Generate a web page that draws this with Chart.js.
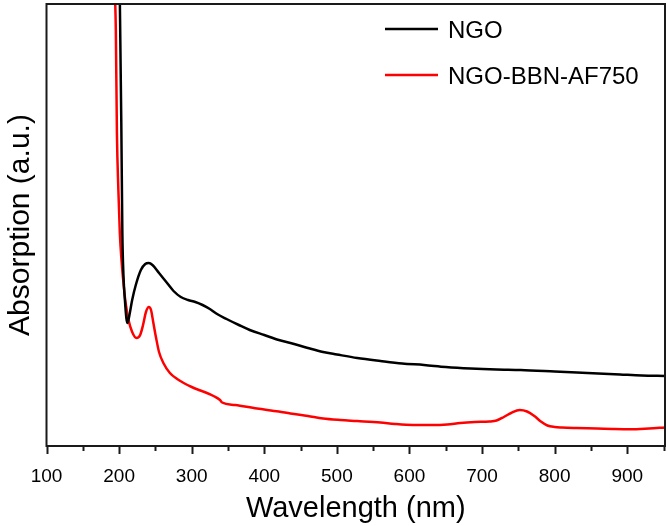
<!DOCTYPE html>
<html>
<head>
<meta charset="utf-8">
<script src="https://cdn.jsdelivr.net/npm/chart.js@4.4.1/dist/chart.umd.min.js"></script>
<style>
    html, body { margin: 0; padding: 0; background: #fff; }
    #wrap { width: 668px; height: 526px; position: relative; }
</style>
</head>
<body>
<div id="wrap"><canvas id="chart"></canvas></div>
<script>
// Espectros UV-Vis (absorción en unidades arbitrarias)
const ngoWavelength = [200.5, 203, 204.5, 206, 208, 210, 211.5, 214, 218, 223, 230, 236, 241, 246, 255, 265, 275, 285, 295, 305, 315, 325, 335, 348, 365, 380, 400, 420, 436, 460, 481, 500, 528, 560, 590, 620, 650, 684, 720, 753, 800, 845, 890, 920, 952];
const ngoAbsorption = [4.76, 3.26, 2.13, 1.71, 1.46, 1.28, 1.23, 1.30, 1.46, 1.61, 1.76, 1.82, 1.83, 1.81, 1.73, 1.64, 1.55, 1.49, 1.46, 1.44, 1.41, 1.37, 1.32, 1.27, 1.21, 1.16, 1.11, 1.06, 1.03, 0.98, 0.94, 0.915, 0.88, 0.85, 0.825, 0.81, 0.79, 0.775, 0.765, 0.76, 0.745, 0.73, 0.715, 0.705, 0.70];

const bbnWavelength = [193.5, 195.5, 197, 199, 201, 203.5, 206, 209, 213, 218, 224, 229, 233, 237, 241, 244, 247, 251, 255, 261, 270, 280, 289, 300, 310, 321, 330, 339, 342, 360, 390, 420, 436, 460, 481, 505, 528, 560, 580, 605, 630, 652, 670, 690, 710, 720, 730, 740, 752, 762, 772, 781, 790, 800, 810, 830, 858, 880, 904, 930, 952];
const bbnAbsorption = [4.66, 4.16, 3.13, 2.56, 2.13, 1.84, 1.63, 1.43, 1.26, 1.14, 1.08, 1.11, 1.21, 1.34, 1.39, 1.36, 1.24, 1.08, 0.94, 0.83, 0.73, 0.67, 0.63, 0.59, 0.56, 0.53, 0.50, 0.46, 0.435, 0.41, 0.375, 0.345, 0.325, 0.30, 0.275, 0.26, 0.25, 0.235, 0.22, 0.21, 0.21, 0.215, 0.23, 0.24, 0.245, 0.255, 0.29, 0.33, 0.36, 0.345, 0.30, 0.245, 0.205, 0.19, 0.185, 0.18, 0.175, 0.17, 0.167, 0.175, 0.185];

const seriesLabels = ['NGO', 'NGO-BBN-AF750'];
const seriesColors = ['#000000', '#ff0000'];

const FONT = "'Liberation Sans', Arial, sans-serif";

const toPoints = (xs, ys) => xs.map((x, i) => ({ x, y: ys[i] }));

// ─── Marco, marcas del eje X y leyenda ───────────────────────────────────────
const framePlugin = {
    id: 'frame',
    afterDatasetsDraw(chart) {
        const { ctx, chartArea: a, scales: { x } } = chart;
        ctx.save();
        ctx.strokeStyle = '#1a1a1a';
        ctx.lineWidth = 2;
        ctx.strokeRect(a.left, a.top, a.right - a.left, a.bottom - a.top);

        // marcas mayores cada 100 nm, menores cada 50 nm
        for (let v = x.min; v <= x.max; v += 50) {
            const px = Math.round(x.getPixelForValue(v)) + 0.5;
            const len = v % 100 === 0 ? 8 : 5;
            ctx.beginPath();
            ctx.moveTo(px, a.bottom);
            ctx.lineTo(px, a.bottom + len);
            ctx.stroke();
        }

        // leyenda
        ctx.font = `24px ${FONT}`;
        ctx.textBaseline = 'middle';
        chart.data.datasets.forEach((ds, i) => {
            const y = 29 + i * 46;
            ctx.strokeStyle = ds.borderColor;
            ctx.lineWidth = 2.5;
            ctx.beginPath();
            ctx.moveTo(385, y);
            ctx.lineTo(438, y);
            ctx.stroke();
            ctx.fillStyle = '#000';
            ctx.fillText(ds.label, 448, y + 2);
        });
        ctx.restore();
    }
};

new Chart(document.getElementById('chart'), {
    type: 'line',
    data: {
        datasets: [
            {
                label: seriesLabels[0],
                data: toPoints(ngoWavelength, ngoAbsorption),
                borderColor: seriesColors[0],
                borderWidth: 2.5,
                pointRadius: 0,
                cubicInterpolationMode: 'monotone',
                clip: 0
            },
            {
                label: seriesLabels[1],
                data: toPoints(bbnWavelength, bbnAbsorption),
                borderColor: seriesColors[1],
                borderWidth: 2.5,
                pointRadius: 0,
                cubicInterpolationMode: 'monotone',
                clip: 0
            }
        ]
    },
    options: {
        responsive: true,
        maintainAspectRatio: false,
        animation: false,
        layout: { padding: { left: 0, right: 3, top: 4, bottom: 0 } },
        plugins: {
            legend: { display: false },
            tooltip: { enabled: false }
        },
        scales: {
            x: {
                type: 'linear',
                min: 100,
                max: 952,
                grid: { display: false },
                border: { display: false },
                ticks: {
                    stepSize: 100,
                    includeBounds: false,
                    padding: 11,
                    color: '#000',
                    font: { family: FONT, size: 19 }
                },
                title: {
                    display: true,
                    text: 'Wavelength (nm)',
                    color: '#000',
                    font: { family: FONT, size: 29 },
                    padding: { top: 0, bottom: 0 }
                },
                afterFit: scale => { scale.height = 80; }
            },
            y: {
                min: 0,
                max: 4.42,
                grid: { display: false },
                border: { display: false },
                ticks: { display: false },
                title: {
                    display: true,
                    text: 'Absorption (a.u.)',
                    color: '#000',
                    font: { family: FONT, size: 30 },
                    padding: { top: 3, bottom: 0 }
                },
                afterFit: scale => { scale.width = 46.5; }
            }
        }
    },
    plugins: [framePlugin]
});
</script>
</body>
</html>
